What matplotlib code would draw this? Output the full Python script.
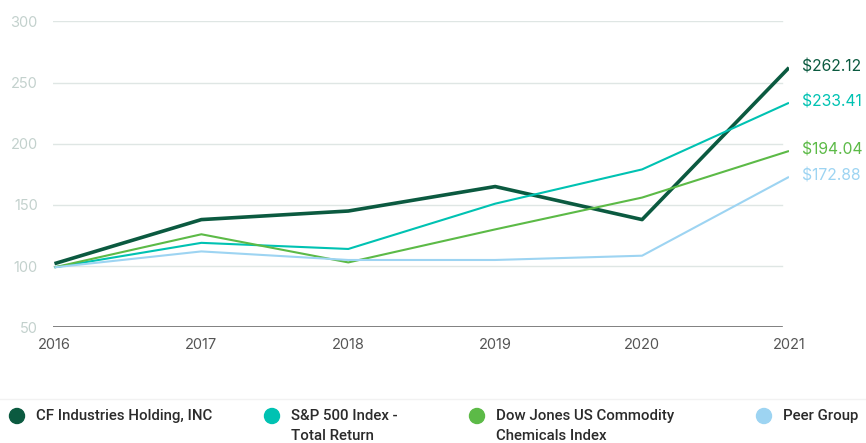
import matplotlib
matplotlib.use('Agg')
from matplotlib import pyplot as plt
from matplotlib.patches import Ellipse

# data
years = [2016, 2017, 2018, 2019, 2020, 2021]
cf_industries = [102, 138, 145, 165, 138, 262.12]
sp500 = [99, 119, 114, 151, 179, 233.41]
dow_jones = [99, 126, 103, 130, 156, 194.04]
peer_group = [99, 112, 105, 105, 108.5, 172.88]

series = [
    ('CF Industries Holding, INC', cf_industries, '#0b5a40', 2.6),
    ('S&P 500 Index -\nTotal Return', sp500, '#00c2b2', 1.5),
    ('Dow Jones US Commodity\nChemicals Index', dow_jones, '#5cba47', 1.5),
    ('Peer Group', peer_group, '#9dd4f2', 1.5),
]
y_ticks = [50, 100, 150, 200, 250, 300]

plt.rcParams['font.family'] = ['Inter', 'DejaVu Sans']

fig = plt.figure(figsize=(8.66, 4.43), dpi=100)
ax = fig.add_axes([53 / 866, 1 - 327.3 / 443, (789 - 53) / 866, 306 / 443])

# grid lines stop a bit short of the last point
for y in y_ticks[1:]:
    ax.axhline(y, xmin=0, xmax=0.99, color='#dfe6e4', lw=1, zorder=1)
ax.axhline(50, xmin=0, xmax=0.99, color='#6b6b6b', lw=1.2, zorder=1)

for name, vals, color, lw in series:
    ax.plot(years, vals, color=color, lw=lw, zorder=3, solid_capstyle='butt')
    ax.annotate('$' + format(vals[-1], '.2f'), xy=(years[-1], vals[-1]),
                xytext=(13, 1), textcoords='offset pixels',
                color=color, fontsize=11.3, va='center', ha='left',
                annotation_clip=False)

ax.set_xlim(2015.99, 2021)
ax.set_ylim(50, 300)
ax.set_yticks(y_ticks)
ax.set_xticks(years)
ax.tick_params(axis='y', length=0, pad=11, labelsize=10.5, labelcolor='#c3d1cd')
ax.tick_params(axis='x', length=0, pad=8, labelsize=10.5, labelcolor='#555555')
for s in ax.spines.values():
    s.set_visible(False)

# separator above legend
fig.add_artist(plt.Line2D([0, 1], [1 - 399 / 443] * 2, color='#f2f2f2', lw=1))

# legend
legend_x = [17, 272, 477, 764]
for (name, vals, color, lw), lx in zip(series, legend_x):
    fig.add_artist(Ellipse((lx / 866, 1 - 416 / 443), 15 / 866, 15 / 443,
                           color=color, transform=fig.transFigure))
    fig.text((lx + 19) / 866, 1 - 409 / 443, name, fontsize=10.8,
             family=['Roboto', 'DejaVu Sans'], fontweight='medium',
             color='#2b2b2b', va='top', ha='left', linespacing=1.55)

fig.savefig('out.png', dpi=100)
